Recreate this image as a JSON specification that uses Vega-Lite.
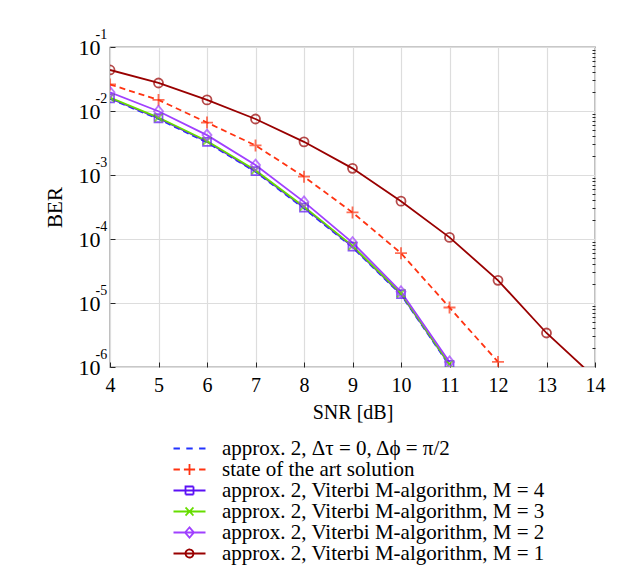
{
  "$schema": "https://vega.github.io/schema/vega-lite/v6.json",
  "autosize": {"type": "none"},
  "padding": {"left": 110, "top": 47, "right": 40, "bottom": 211},
  "width": 485,
  "height": 320,
  "background": "white",
  "config": {
    "view": {"stroke": "#262626", "strokeWidth": 1.2},
    "font": "Liberation Serif",
    "axis": {"labelFont": "Liberation Serif", "titleFont": "Liberation Serif", "labelColor": "black", "titleColor": "black", "titleFontWeight": "normal", "domain": false, "tickColor": "#262626"},
    "legend": {"orient": "none", "legendX": 69, "legendY": 391, "title": null, "symbolSize": 256, "labelOffset": 22, "symbolStrokeWidth": 1.8, "symbolFillColor": "transparent", "symbolDash": [1, 0], "symbolOpacity": 1, "rowPadding": -3, "labelFont": "Liberation Serif", "labelFontSize": 21, "labelColor": "black", "labelLimit": 500}
  },
  "data": {"values": [
    {"series": "approx. 2,  Δτ = 0,  Δϕ = π/2", "snr": 4, "ber": 0.0155},
    {"series": "approx. 2,  Δτ = 0,  Δϕ = π/2", "snr": 5, "ber": 0.0075},
    {"series": "approx. 2,  Δτ = 0,  Δϕ = π/2", "snr": 6, "ber": 0.00322},
    {"series": "approx. 2,  Δτ = 0,  Δϕ = π/2", "snr": 7, "ber": 0.00112},
    {"series": "approx. 2,  Δτ = 0,  Δϕ = π/2", "snr": 8, "ber": 0.0003},
    {"series": "approx. 2,  Δτ = 0,  Δϕ = π/2", "snr": 9, "ber": 0.000074},
    {"series": "approx. 2,  Δτ = 0,  Δϕ = π/2", "snr": 10, "ber": 0.0000135},
    {"series": "approx. 2,  Δτ = 0,  Δϕ = π/2", "snr": 11, "ber": 0.00000105},
    {"series": "approx. 2, Viterbi M-algorithm, M = 4", "snr": 4, "ber": 0.0158},
    {"series": "approx. 2, Viterbi M-algorithm, M = 4", "snr": 5, "ber": 0.0077},
    {"series": "approx. 2, Viterbi M-algorithm, M = 4", "snr": 6, "ber": 0.0033},
    {"series": "approx. 2, Viterbi M-algorithm, M = 4", "snr": 7, "ber": 0.00115},
    {"series": "approx. 2, Viterbi M-algorithm, M = 4", "snr": 8, "ber": 0.00031},
    {"series": "approx. 2, Viterbi M-algorithm, M = 4", "snr": 9, "ber": 0.000076},
    {"series": "approx. 2, Viterbi M-algorithm, M = 4", "snr": 10, "ber": 0.0000138},
    {"series": "approx. 2, Viterbi M-algorithm, M = 4", "snr": 11, "ber": 0.00000108},
    {"series": "approx. 2, Viterbi M-algorithm, M = 3", "snr": 4, "ber": 0.0162},
    {"series": "approx. 2, Viterbi M-algorithm, M = 3", "snr": 5, "ber": 0.0079},
    {"series": "approx. 2, Viterbi M-algorithm, M = 3", "snr": 6, "ber": 0.0034},
    {"series": "approx. 2, Viterbi M-algorithm, M = 3", "snr": 7, "ber": 0.00119},
    {"series": "approx. 2, Viterbi M-algorithm, M = 3", "snr": 8, "ber": 0.00032},
    {"series": "approx. 2, Viterbi M-algorithm, M = 3", "snr": 9, "ber": 0.000078},
    {"series": "approx. 2, Viterbi M-algorithm, M = 3", "snr": 10, "ber": 0.0000142},
    {"series": "approx. 2, Viterbi M-algorithm, M = 3", "snr": 11, "ber": 0.0000011},
    {"series": "approx. 2, Viterbi M-algorithm, M = 2", "snr": 4, "ber": 0.0196},
    {"series": "approx. 2, Viterbi M-algorithm, M = 2", "snr": 5, "ber": 0.0099},
    {"series": "approx. 2, Viterbi M-algorithm, M = 2", "snr": 6, "ber": 0.0042},
    {"series": "approx. 2, Viterbi M-algorithm, M = 2", "snr": 7, "ber": 0.00143},
    {"series": "approx. 2, Viterbi M-algorithm, M = 2", "snr": 8, "ber": 0.00038},
    {"series": "approx. 2, Viterbi M-algorithm, M = 2", "snr": 9, "ber": 0.000088},
    {"series": "approx. 2, Viterbi M-algorithm, M = 2", "snr": 10, "ber": 0.000015},
    {"series": "approx. 2, Viterbi M-algorithm, M = 2", "snr": 11, "ber": 0.0000012},
    {"series": "state of the art solution", "snr": 4, "ber": 0.026},
    {"series": "state of the art solution", "snr": 5, "ber": 0.0149},
    {"series": "state of the art solution", "snr": 6, "ber": 0.0066},
    {"series": "state of the art solution", "snr": 7, "ber": 0.0029},
    {"series": "state of the art solution", "snr": 8, "ber": 0.00094},
    {"series": "state of the art solution", "snr": 9, "ber": 0.00026},
    {"series": "state of the art solution", "snr": 10, "ber": 0.00006},
    {"series": "state of the art solution", "snr": 11, "ber": 0.0000085},
    {"series": "state of the art solution", "snr": 12, "ber": 0.0000012},
    {"series": "approx. 2, Viterbi M-algorithm, M = 1", "snr": 4, "ber": 0.0438},
    {"series": "approx. 2, Viterbi M-algorithm, M = 1", "snr": 5, "ber": 0.0274},
    {"series": "approx. 2, Viterbi M-algorithm, M = 1", "snr": 6, "ber": 0.0149},
    {"series": "approx. 2, Viterbi M-algorithm, M = 1", "snr": 7, "ber": 0.0075},
    {"series": "approx. 2, Viterbi M-algorithm, M = 1", "snr": 8, "ber": 0.0033},
    {"series": "approx. 2, Viterbi M-algorithm, M = 1", "snr": 9, "ber": 0.00127},
    {"series": "approx. 2, Viterbi M-algorithm, M = 1", "snr": 10, "ber": 0.00039},
    {"series": "approx. 2, Viterbi M-algorithm, M = 1", "snr": 11, "ber": 0.000106},
    {"series": "approx. 2, Viterbi M-algorithm, M = 1", "snr": 12, "ber": 0.0000226},
    {"series": "approx. 2, Viterbi M-algorithm, M = 1", "snr": 13, "ber": 0.0000034},
    {"series": "approx. 2, Viterbi M-algorithm, M = 1", "snr": 14, "ber": 0.00000068}
  ]},
  "resolve": {"axis": {"y": "independent"}},
  "encoding": {
    "x": {"field": "snr", "type": "quantitative", "scale": {"domain": [4, 14], "nice": false, "zero": false},
      "axis": {"values": [4,5,6,7,8,9,10,11,12,13,14], "title": "SNR [dB]", "labelFontSize": 20, "titleFontSize": 20, "tickSize": -5, "labelPadding": 13, "titlePadding": 7, "gridColor": "#dddddd", "gridWidth": 1.2, "labelFlush": false}},
    "color": {"field": "series", "type": "nominal", "sort": null,
      "scale": {"domain": ["approx. 2,  Δτ = 0,  Δϕ = π/2", "state of the art solution", "approx. 2, Viterbi M-algorithm, M = 4", "approx. 2, Viterbi M-algorithm, M = 3", "approx. 2, Viterbi M-algorithm, M = 2", "approx. 2, Viterbi M-algorithm, M = 1"],
                "range": ["#2233ff", "#ff3311", "#5b10f5", "#66dd00", "#a040ff", "#990000"]}}
  },
  "layer": [
    {
      "transform": [{"filter": {"field": "series", "oneOf": ["approx. 2,  Δτ = 0,  Δϕ = π/2", "state of the art solution"]}}],
      "mark": {"type": "line", "clip": true, "strokeWidth": 1.8, "strokeDash": [6, 4]},
      "encoding": {
        "y": {"field": "ber", "type": "quantitative", "scale": {"type": "log", "domain": [0.000001, 0.1], "nice": false},
          "axis": {"orient": "left", "values": [0.000001, 0.00001, 0.0001, 0.001, 0.01, 0.1], "title": "BER", "labelFontSize": 22, "titleFontSize": 21, "tickSize": -5, "labelPadding": 15, "titlePadding": 13, "gridColor": "#dddddd", "gridWidth": 1.2, "labelFlush": false,
            "labelExpr": "'10'"}},
        "color": {"field": "series", "type": "nominal", "sort": null,
          "legend": {
            "encode": {"symbols": {"update": {
              "shape": {"signal": "['M-2,0H-1.2M-0.4,0H0.4M1.2,0H2', 'M-2,0H-1.2M1.2,0H2M-0.7,0H0.7M0,-0.7V0.7', 'M-2,0H2M-0.5,-0.5H0.5V0.5H-0.5Z', 'M-2,0H2M-0.5,-0.5L0.5,0.5M-0.5,0.5L0.5,-0.5', 'M-2,0H2M0,-0.65L0.55,0L0,0.65L-0.55,0Z', 'M-2,0H2M0.5,0A0.5,0.5,0,1,1,-0.5,0A0.5,0.5,0,1,1,0.5,0'][indexof(['approx. 2,  Δτ = 0,  Δϕ = π/2', 'state of the art solution', 'approx. 2, Viterbi M-algorithm, M = 4', 'approx. 2, Viterbi M-algorithm, M = 3', 'approx. 2, Viterbi M-algorithm, M = 2', 'approx. 2, Viterbi M-algorithm, M = 1'], datum.value)]"}
            }}}}}
      }
    },
    {
      "transform": [{"filter": {"field": "series", "oneOf": ["approx. 2, Viterbi M-algorithm, M = 4", "approx. 2, Viterbi M-algorithm, M = 3", "approx. 2, Viterbi M-algorithm, M = 2", "approx. 2, Viterbi M-algorithm, M = 1"]}}],
      "mark": {"type": "line", "clip": true, "strokeWidth": 1.8},
      "encoding": {"y": {"field": "ber", "type": "quantitative", "axis": null}}
    },
    {
      "transform": [{"filter": {"field": "series", "equal": "state of the art solution"}}],
      "mark": {"type": "point", "clip": true, "filled": false, "strokeWidth": 1.8, "size": 100, "shape": "M-1.2,0H1.2M0,-1.2V1.2"},
      "encoding": {
        "y": {"field": "ber", "type": "quantitative",
          "axis": {"orient": "right", "values": [0.000002,0.000003,0.000004,0.000005,0.000006,0.000007,0.000008,0.000009,0.00002,0.00003,0.00004,0.00005,0.00006,0.00007,0.00008,0.00009,0.0002,0.0003,0.0004,0.0005,0.0006,0.0007,0.0008,0.0009,0.002,0.003,0.004,0.005,0.006,0.007,0.008,0.009,0.02,0.03,0.04,0.05,0.06,0.07,0.08,0.09],
            "labels": false, "title": null, "tickSize": -3, "gridColor": "#cccccc", "gridDash": [1, 2], "gridWidth": 1}}
      }
    },
    {
      "transform": [{"filter": {"field": "series", "equal": "approx. 2, Viterbi M-algorithm, M = 4"}}],
      "mark": {"type": "point", "clip": true, "filled": false, "strokeWidth": 1.8, "size": 100, "shape": "M-0.8,-0.8H0.8V0.8H-0.8Z"},
      "encoding": {"y": {"field": "ber", "type": "quantitative", "axis": null}}
    },
    {
      "transform": [{"filter": {"field": "series", "equal": "approx. 2, Viterbi M-algorithm, M = 3"}}],
      "mark": {"type": "point", "clip": true, "filled": false, "strokeWidth": 1.8, "size": 100, "shape": "M-0.8,-0.8L0.8,0.8M-0.8,0.8L0.8,-0.8"},
      "encoding": {"y": {"field": "ber", "type": "quantitative", "axis": null}}
    },
    {
      "transform": [{"filter": {"field": "series", "equal": "approx. 2, Viterbi M-algorithm, M = 2"}}],
      "mark": {"type": "point", "clip": true, "filled": false, "strokeWidth": 1.8, "size": 100, "shape": "M0,-1.1L0.9,0L0,1.1L-0.9,0Z"},
      "encoding": {"y": {"field": "ber", "type": "quantitative", "axis": null}}
    },
    {
      "transform": [{"filter": {"field": "series", "equal": "approx. 2, Viterbi M-algorithm, M = 1"}}],
      "mark": {"type": "point", "clip": true, "filled": false, "strokeWidth": 1.8, "size": 100, "shape": "M0.9,0A0.9,0.9,0,1,1,-0.9,0A0.9,0.9,0,1,1,0.9,0"},
      "encoding": {"y": {"field": "ber", "type": "quantitative", "axis": null}}
    },
    {
      "mark": {"type": "point", "clip": true, "opacity": 0, "size": 0},
      "encoding": {
        "y": {"field": "ber", "type": "quantitative",
          "axis": {"orient": "left", "values": [0.000001, 0.00001, 0.0001, 0.001, 0.01, 0.1], "title": null, "grid": false, "ticks": false, "labelAlign": "left", "labelPadding": 15, "labelOffset": -13, "labelFontSize": 14,
            "labelExpr": "'-' + (-round(log(datum.value)/LN10))"}}
      }
    }
  ]
}
